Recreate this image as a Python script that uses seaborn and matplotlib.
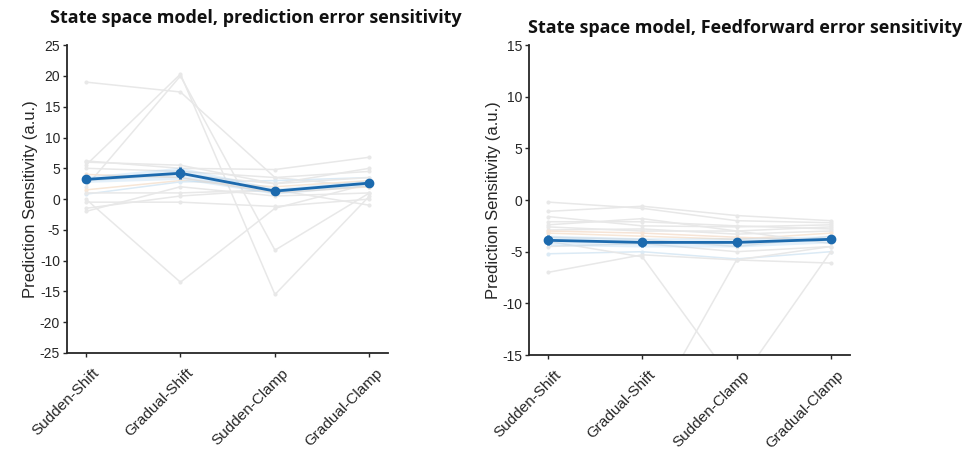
import numpy as np
import pandas as pd
import matplotlib
matplotlib.use("Agg")
import matplotlib.pyplot as plt
import matplotlib.transforms as mtransforms
import seaborn as sns

conditions = ["Sudden-Shift", "Gradual-Shift", "Sudden-Clamp", "Gradual-Clamp"]

# Left panel: prediction error sensitivity, individual subjects
pe_subjects = [
    [19.0, 17.4, 3.5, 2.0],
    [5.5, 20.3, -15.5, 0.5],
    [2.0, 20.0, -8.3, 1.0],
    [0.0, -13.5, -1.5, 2.5],
    [6.2, 5.0, 4.8, 6.8],
    [5.0, 4.5, 3.5, 4.5],
    [1.5, 3.0, 2.0, 3.0],
    [-1.5, 0.5, 1.5, -1.0],
    [-2.0, 2.0, 0.5, 1.0],
    [0.8, 2.8, 3.0, 3.5],
    [-0.5, -0.5, -1.2, 0.0],
    [1.0, 1.0, 1.5, 2.0],
    [3.0, 4.0, 2.5, 3.5],
    [4.0, 3.5, 1.0, 2.0],
    [6.0, 5.5, 2.5, 5.0],
]
pe_mean = [3.2, 4.2, 1.3, 2.6]
pe_sem = [0.5, 1.0, 0.5, 0.5]

# Right panel: feedforward error sensitivity, individual subjects
ff_subjects = [
    [-0.2, -0.8, -2.0, -2.2],
    [-1.1, -0.6, -1.5, -2.0],
    [-1.6, -2.5, -2.6, -2.4],
    [-2.1, -2.1, -2.5, -2.8],
    [-2.6, -3.0, -3.0, -2.6],
    [-2.9, -2.8, -3.3, -3.0],
    [-3.2, -3.5, -3.8, -3.2],
    [-3.6, -3.8, -4.5, -3.5],
    [-4.5, -4.2, -5.0, -4.5],
    [-5.2, -5.0, -5.7, -5.0],
    [-7.0, -5.3, -5.8, -6.1],
    [-4.0, -5.5, -18.0, -5.0],
    [-20.0, -22.0, -5.8, -4.5],
    [-3.0, -3.2, -3.6, -3.9],
    [-2.4, -1.8, -3.0, -4.2],
]
ff_mean = [-3.9, -4.1, -4.1, -3.8]
ff_sem = [0.5, 0.45, 0.45, 0.35]

titles = ["State space model, prediction error sensitivity",
          "State space model, Feedforward error sensitivity"]
ylabel = "Prediction Sensitivity (a.u.)"
ylims = [(-25, 25), (-15, 15)]

sns.set_theme(style="white")
plt.rcParams["font.family"] = ["Liberation Sans", "DejaVu Sans"]
plt.rcParams["axes.unicode_minus"] = False

fig = plt.figure(figsize=(9.71, 4.5), dpi=100)
ax1 = fig.add_axes([0.069, 0.2156, 0.331, 0.684])
ax2 = fig.add_axes([0.545, 0.211, 0.330, 0.689])

subj_palette = ["#e8e8e8"] * 15
subj_palette[6] = "#f7e6d6"
subj_palette[9] = "#dbeaf5"
subj_palette[13] = "#f6e4d6"

mean_color = "#1c6aae"

title_pos = [(256 / 971, 1 - 18 / 450), (745 / 971, 1 - 28 / 450)]

for ax, subs, mean, sem, title, ylim, tpos in [
    (ax1, pe_subjects, pe_mean, pe_sem, titles[0], ylims[0], title_pos[0]),
    (ax2, ff_subjects, ff_mean, ff_sem, titles[1], ylims[1], title_pos[1]),
]:
    rows = []
    for si, vals in enumerate(subs):
        for ci, v in enumerate(vals):
            rows.append({"subject": si, "condition": conditions[ci], "value": v})
    df = pd.DataFrame(rows)
    sns.lineplot(data=df, x="condition", y="value", hue="subject",
                 palette=subj_palette, estimator=None, units="subject",
                 marker="o", markersize=3, markeredgewidth=0,
                 linewidth=1.1, legend=False, ax=ax, sort=False, zorder=1)
    xpos = np.arange(len(conditions))
    m = np.array(mean)
    s = np.array(sem)
    ax.fill_between(xpos, m - s, m + s, color="#a6d0f0", alpha=0.3,
                    linewidth=0, zorder=2)
    ax.errorbar(xpos, m, yerr=s, color=mean_color, marker="o", markersize=6,
                linewidth=2, elinewidth=2, capsize=0, zorder=3)
    ax.set_xlim(-0.2, 3.2)
    ax.set_ylim(*ylim)
    ax.set_yticks(np.arange(ylim[0], ylim[1] + 1, 5))
    ax.set_xticks(xpos)
    ax.tick_params(axis="y", labelsize=10, labelcolor="#262626")
    ax.tick_params(axis="both", direction="out", length=3, width=1,
                   color="#262626", bottom=True, left=True, pad=2)
    ax.set_xticklabels(conditions, rotation=45, ha="right", va="top",
                       rotation_mode="anchor", fontsize=11, color="#262626")
    offset = mtransforms.ScaledTranslation(6 / 100, -6 / 100, fig.dpi_scale_trans)
    for lab in ax.get_xticklabels():
        lab.set_transform(lab.get_transform() + offset)
    ax.set_xlabel("")
    ax.set_ylabel(ylabel, fontsize=12, color="#262626", labelpad=1)
    fig.text(tpos[0], tpos[1], title, fontsize=13, fontweight="bold",
             family=["Open Sans", "DejaVu Sans"], color="#111111",
             ha="center", va="center")
    sns.despine(ax=ax)
    for sp in ["left", "bottom"]:
        ax.spines[sp].set_color("#262626")
        ax.spines[sp].set_linewidth(1.3)

fig.savefig("out.png", dpi=100)
